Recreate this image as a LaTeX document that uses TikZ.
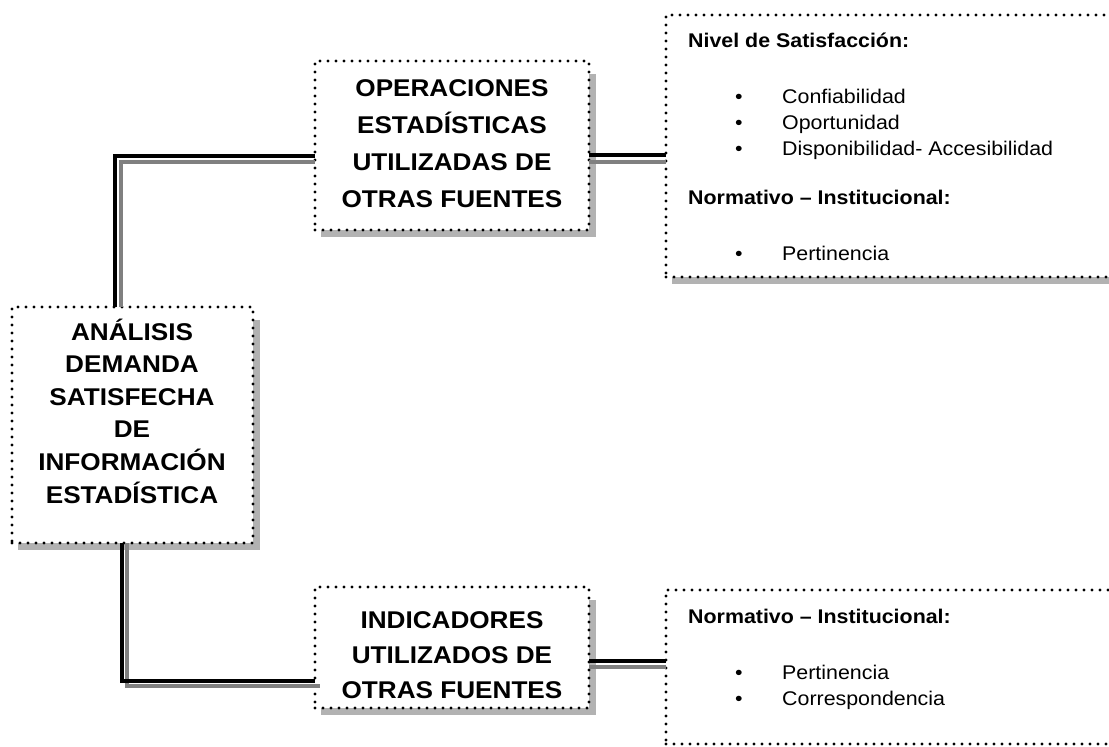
\documentclass[tikz,border=0pt]{standalone}
\usepackage{fontspec}
\setmainfont{Liberation Sans}[FakeStretch=1.08]
\usetikzlibrary{calc}
\pgfdeclarelayer{background}
\pgfsetlayers{background,main}
\definecolor{shadowgray}{RGB}{178,178,178}
\definecolor{linegray}{RGB}{128,128,128}
\newcommand\bitem[1]{\hspace*{47pt}\makebox[47pt][l]{•}#1}
\begin{document}
\begin{tikzpicture}[x=1pt,y=-1pt,
  dotbox/.style={draw, line width=3.1pt, dash pattern=on 0pt off 8pt, line cap=round,
    rectangle, inner sep=0pt, outer sep=0pt, anchor=north west},
  bigtext/.style={align=center, anchor=base, inner sep=0pt},
  smalltext/.style={font=\fontsize{19.8}{25.8}\selectfont, align=left, anchor=base west, inner sep=0pt},
  blackline/.style={draw=black, line width=3.4pt},
  grayline/.style={draw=linegray, line width=3.2pt},
  shadowfill/.style={fill=shadowgray}]
\useasboundingbox (0,0) rectangle (1109,747);

% boxes
\node[dotbox, minimum width=241pt, minimum height=236pt] (main) at (12,307) {};
\node[dotbox, minimum width=274pt, minimum height=169pt] (ops) at (315,61) {};
\node[dotbox, minimum width=274pt, minimum height=121pt] (ind) at (315,587) {};
\node[dotbox, minimum width=460pt, minimum height=262pt] (sat) at (666,15) {};
\node[dotbox, minimum width=460pt, minimum height=154pt] (norm) at (666,590) {};

% shadows
\begin{pgfonlayer}{background}
\foreach \b in {main,ops,ind,sat}{
  \fill[shadowfill] ($(\b.south west)+(6,0)$) rectangle ($(\b.south east)+(7,7)$);
  \fill[shadowfill] ($(\b.north east)+(0,13)$) rectangle ($(\b.south east)+(7,7)$);
}
\end{pgfonlayer}

% texts (anchor base = baseline of the last line)
\node[bigtext, font=\fontsize{24.2}{32.6}\selectfont\bfseries] (maintext) at (132,503)
  {ANÁLISIS\\DEMANDA\\SATISFECHA\\DE\\INFORMACIÓN\\ESTADÍSTICA};
\node[bigtext, font=\fontsize{24.2}{36.7}\selectfont\bfseries] (opstext) at (452,207)
  {OPERACIONES\\ESTADÍSTICAS\\UTILIZADAS DE\\OTRAS FUENTES};
\node[bigtext, font=\fontsize{24.2}{35}\selectfont\bfseries] (indtext) at (452,698)
  {INDICADORES\\UTILIZADOS DE\\OTRAS FUENTES};
\node[smalltext] (sattext) at (688,260)
  {\textbf{Nivel de Satisfacción:}\\[30.5pt]
   \bitem{Confiabilidad}\\
   \bitem{Oportunidad}\\
   \bitem{Disponibilidad- Accesibilidad}\\[23pt]
   \textbf{Normativo – Institucional:}\\[30.2pt]
   \bitem{Pertinencia}};
\node[smalltext] (normtext) at (688,705)
  {\textbf{Normativo – Institucional:}\\[30.2pt]
   \bitem{Pertinencia}\\
   \bitem{Correspondencia}};

% connectors
\coordinate (u1) at ($(main.north west)+(103,0)$);
\coordinate (u2) at ($(ops.west)+(0,10.5)$);
\coordinate (ug1) at ($(main.north west)+(109,0)$);
\coordinate (ug2) at ($(ops.west)+(0,16.5)$);
\draw[grayline] (ug1) |- (ug2);
\draw[blackline] (u1) |- (u2);

\coordinate (r1) at ($(ops.east)+(0,9.5)$);
\coordinate (rg1) at ($(ops.east)+(0,16.5)$);
\draw[grayline] (rg1) -- (rg1 -| sat.west);
\draw[blackline] (r1) -- (r1 -| sat.west);

\coordinate (l1) at ($(main.south west)+(110,0)$);
\coordinate (l2) at ($(ind.west)+(0,33.5)$);
\coordinate (lg1) at ($(main.south west)+(115,0)$);
\coordinate (lg2) at ($(ind.west)+(5,38.5)$);
\draw[grayline] (lg1) |- (lg2);
\draw[blackline] (l1) |- (l2);

\coordinate (s1) at ($(ind.east)+(0,13.5)$);
\coordinate (sg1) at ($(ind.east)+(0,19.5)$);
\draw[grayline] (sg1) -- (sg1 -| norm.west);
\draw[blackline] (s1) -- (s1 -| norm.west);
\end{tikzpicture}
\end{document}
